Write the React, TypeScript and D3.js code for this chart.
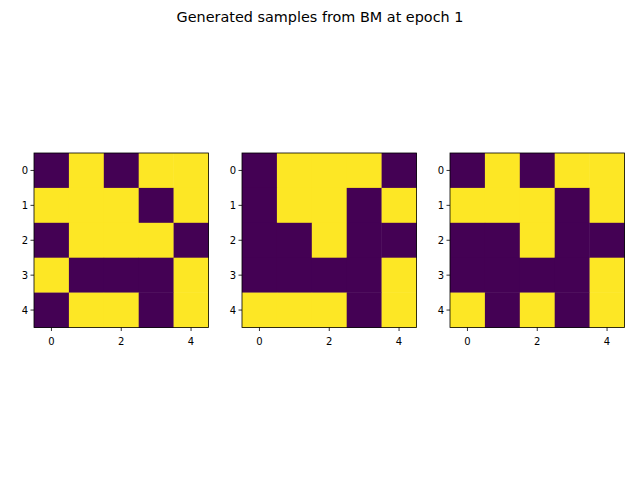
import React from "react";
import * as d3 from "d3";

const title = "Generated samples from BM at epoch 1";
const ticks = [0, 1, 2, 3, 4];
const xTicks = [0, 2, 4];
const sample1 = [
  [0, 1, 0, 1, 1],
  [1, 1, 1, 0, 1],
  [0, 1, 1, 1, 0],
  [1, 0, 0, 0, 1],
  [0, 1, 1, 0, 1],
];
const sample2 = [
  [0, 1, 1, 1, 0],
  [0, 1, 1, 0, 1],
  [0, 0, 1, 0, 0],
  [0, 0, 0, 0, 1],
  [1, 1, 1, 0, 1],
];
const sample3 = [
  [0, 1, 0, 1, 1],
  [1, 1, 1, 0, 1],
  [0, 0, 1, 0, 0],
  [0, 0, 0, 0, 1],
  [1, 0, 1, 0, 1],
];
const samples = [sample1, sample2, sample3];
const lefts = [34, 242, 450];
const top = 153;
const size = 174.5;

const color = d3.scaleOrdinal<number, string>().domain([0, 1]).range(["#440154", "#fde725"]);

export default function App() {
  return (
    <svg width={640} height={480} style={{ position: "absolute", left: 0, top: 0, fontFamily: "DejaVu Sans" }}>
      <rect width={640} height={480} fill="white" />
      <text x={320} y={22} textAnchor="middle" fontSize={14.4}>{title}</text>
      {samples.map((s, k) => {
        const x = d3.scaleLinear().domain([-0.5, 4.5]).range([lefts[k], lefts[k] + size]);
        const y = d3.scaleLinear().domain([-0.5, 4.5]).range([top, top + size]);
        return (
          <g key={k}>
            {s.map((row, r) =>
              row.map((v, c) => (
                <rect key={r + "-" + c} x={x(c - 0.5)} y={y(r - 0.5)} width={x(c + 0.5) - x(c - 0.5) + 0.3}
                  height={y(r + 0.5) - y(r - 0.5) + 0.3} fill={color(v)} />
              ))
            )}
            <rect x={lefts[k]} y={top} width={size} height={size} fill="none" stroke="black" strokeWidth={0.8} />
            {xTicks.map((t) => (
              <g key={t}>
                <line x1={x(t)} x2={x(t)} y1={top + size} y2={top + size + 3.5} stroke="black" strokeWidth={0.8} />
                <text x={x(t)} y={top + size + 17} textAnchor="middle" fontSize={10}>{t}</text>
              </g>
            ))}
            {ticks.map((t) => (
              <g key={t}>
                <line x1={lefts[k] - 3.5} x2={lefts[k]} y1={y(t)} y2={y(t)} stroke="black" strokeWidth={0.8} />
                <text x={lefts[k] - 6} y={y(t) + 3.5} textAnchor="end" fontSize={10}>{t}</text>
              </g>
            ))}
          </g>
        );
      })}
    </svg>
  );
}
